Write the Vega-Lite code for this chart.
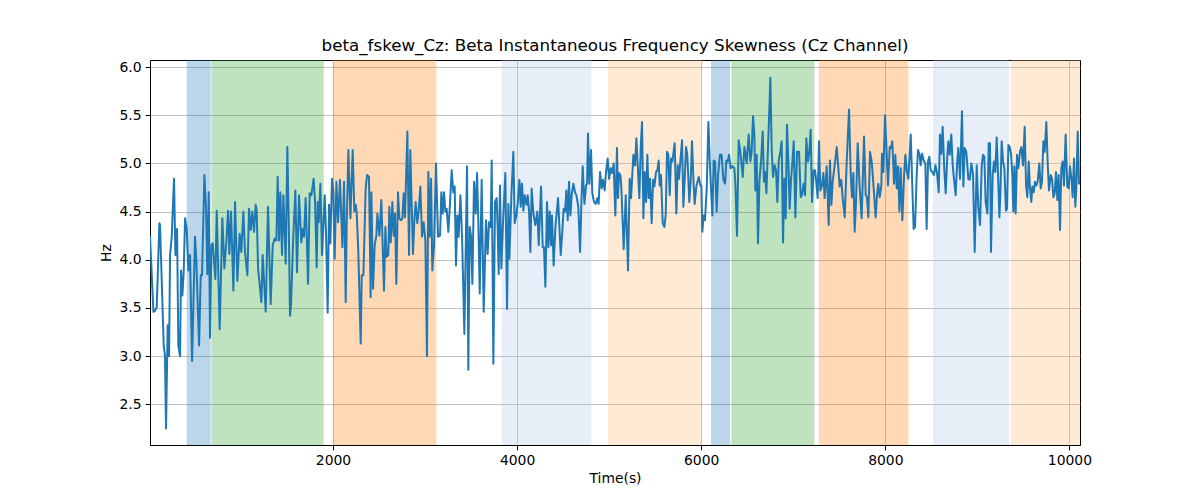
{
  "$schema": "https://vega.github.io/schema/vega-lite/v6.json",
  "width": 930,
  "height": 385,
  "autosize": {"type": "none"},
  "padding": {"left": 150, "top": 60, "right": 120, "bottom": 55},
  "background": "white",
  "title": {"text": "beta_fskew_Cz: Beta Instantaneous Frequency Skewness (Cz Channel)", "fontSize": 16.7, "font": "DejaVu Sans", "fontWeight": "normal", "color": "black", "offset": 5},
  "datasets": {
    "bands": [
      {"start": 411, "end": 671, "phase": "P1"},
      {"start": 679, "end": 1899, "phase": "P2"},
      {"start": 1998, "end": 3123, "phase": "P3"},
      {"start": 3833, "end": 4807, "phase": "P4"},
      {"start": 4988, "end": 6000, "phase": "P5"},
      {"start": 6107, "end": 6313, "phase": "P1"},
      {"start": 6328, "end": 7230, "phase": "P2"},
      {"start": 7277, "end": 8251, "phase": "P3"},
      {"start": 8518, "end": 9344, "phase": "P4"},
      {"start": 9363, "end": 10115, "phase": "P5"}
    ],
    "line": [
      {"t": 12, "v": 4.25}, {"t": 49, "v": 3.46}, {"t": 67, "v": 3.47}, {"t": 85, "v": 3.51}, {"t": 114, "v": 4.38}, {"t": 121, "v": 4.36},
      {"t": 161, "v": 3.11}, {"t": 175, "v": 3.0}, {"t": 186, "v": 2.25}, {"t": 204, "v": 3.32}, {"t": 219, "v": 3.0}, {"t": 230, "v": 4.05},
      {"t": 248, "v": 4.24}, {"t": 273, "v": 4.84}, {"t": 288, "v": 4.05}, {"t": 306, "v": 4.32}, {"t": 320, "v": 3.11}, {"t": 338, "v": 3.0},
      {"t": 349, "v": 3.89}, {"t": 364, "v": 3.63}, {"t": 378, "v": 3.87}, {"t": 393, "v": 4.43}, {"t": 411, "v": 4.32}, {"t": 429, "v": 3.89},
      {"t": 447, "v": 4.05}, {"t": 469, "v": 2.95}, {"t": 501, "v": 4.24}, {"t": 516, "v": 3.98}, {"t": 545, "v": 3.11}, {"t": 563, "v": 3.84},
      {"t": 577, "v": 3.84}, {"t": 603, "v": 4.88}, {"t": 621, "v": 4.53}, {"t": 635, "v": 3.85}, {"t": 650, "v": 4.7}, {"t": 664, "v": 3.19},
      {"t": 679, "v": 4.15}, {"t": 693, "v": 4.17}, {"t": 722, "v": 3.8}, {"t": 737, "v": 4.51}, {"t": 769, "v": 3.28}, {"t": 798, "v": 4.43},
      {"t": 820, "v": 3.91}, {"t": 842, "v": 4.2}, {"t": 860, "v": 4.51}, {"t": 874, "v": 4.06}, {"t": 892, "v": 4.5}, {"t": 918, "v": 3.68},
      {"t": 936, "v": 4.6}, {"t": 961, "v": 3.78}, {"t": 986, "v": 4.27}, {"t": 1004, "v": 4.08}, {"t": 1026, "v": 4.5}, {"t": 1044, "v": 4.08},
      {"t": 1070, "v": 3.84}, {"t": 1088, "v": 4.53}, {"t": 1106, "v": 4.31}, {"t": 1124, "v": 4.5}, {"t": 1142, "v": 4.29}, {"t": 1160, "v": 4.57},
      {"t": 1171, "v": 4.51}, {"t": 1186, "v": 3.91}, {"t": 1222, "v": 3.56}, {"t": 1236, "v": 4.05}, {"t": 1269, "v": 3.46}, {"t": 1294, "v": 4.55},
      {"t": 1323, "v": 3.54}, {"t": 1345, "v": 4.15}, {"t": 1367, "v": 4.22}, {"t": 1385, "v": 4.2}, {"t": 1399, "v": 4.86}, {"t": 1414, "v": 4.2},
      {"t": 1428, "v": 4.7}, {"t": 1446, "v": 4.05}, {"t": 1461, "v": 4.67}, {"t": 1486, "v": 3.96}, {"t": 1504, "v": 5.17}, {"t": 1519, "v": 4.39},
      {"t": 1533, "v": 3.42}, {"t": 1544, "v": 3.54}, {"t": 1566, "v": 4.18}, {"t": 1591, "v": 4.72}, {"t": 1609, "v": 3.87}, {"t": 1631, "v": 4.67},
      {"t": 1656, "v": 4.18}, {"t": 1671, "v": 4.32}, {"t": 1685, "v": 4.24}, {"t": 1703, "v": 4.64}, {"t": 1729, "v": 3.75}, {"t": 1747, "v": 4.69},
      {"t": 1765, "v": 4.67}, {"t": 1790, "v": 4.84}, {"t": 1805, "v": 4.6}, {"t": 1823, "v": 3.92}, {"t": 1834, "v": 4.6}, {"t": 1845, "v": 4.39},
      {"t": 1863, "v": 4.79}, {"t": 1881, "v": 4.05}, {"t": 1910, "v": 4.67}, {"t": 1924, "v": 4.29}, {"t": 1942, "v": 3.45}, {"t": 1957, "v": 4.57},
      {"t": 1971, "v": 4.17}, {"t": 1989, "v": 4.84}, {"t": 2004, "v": 4.7}, {"t": 2018, "v": 4.01}, {"t": 2037, "v": 4.81}, {"t": 2055, "v": 4.39},
      {"t": 2076, "v": 4.83}, {"t": 2102, "v": 4.13}, {"t": 2120, "v": 4.81}, {"t": 2138, "v": 3.56}, {"t": 2149, "v": 4.39}, {"t": 2167, "v": 5.14},
      {"t": 2189, "v": 4.43}, {"t": 2214, "v": 5.14}, {"t": 2232, "v": 4.5}, {"t": 2247, "v": 4.57}, {"t": 2257, "v": 4.5}, {"t": 2275, "v": 4.08},
      {"t": 2301, "v": 3.13}, {"t": 2312, "v": 3.84}, {"t": 2330, "v": 3.84}, {"t": 2355, "v": 4.74}, {"t": 2370, "v": 4.88}, {"t": 2391, "v": 4.86},
      {"t": 2409, "v": 3.61}, {"t": 2417, "v": 4.7}, {"t": 2435, "v": 3.7}, {"t": 2453, "v": 4.15}, {"t": 2471, "v": 4.25}, {"t": 2482, "v": 4.48},
      {"t": 2504, "v": 4.25}, {"t": 2525, "v": 4.62}, {"t": 2554, "v": 3.68}, {"t": 2569, "v": 4.34}, {"t": 2583, "v": 4.03}, {"t": 2601, "v": 4.05},
      {"t": 2612, "v": 4.55}, {"t": 2627, "v": 4.18}, {"t": 2645, "v": 4.6}, {"t": 2659, "v": 4.25}, {"t": 2674, "v": 4.48}, {"t": 2688, "v": 3.75},
      {"t": 2706, "v": 4.7}, {"t": 2721, "v": 4.43}, {"t": 2739, "v": 4.41}, {"t": 2754, "v": 4.43}, {"t": 2768, "v": 4.69}, {"t": 2782, "v": 4.44},
      {"t": 2808, "v": 5.33}, {"t": 2826, "v": 4.05}, {"t": 2840, "v": 5.14}, {"t": 2855, "v": 4.57}, {"t": 2869, "v": 4.06}, {"t": 2884, "v": 4.41},
      {"t": 2898, "v": 4.6}, {"t": 2916, "v": 4.38}, {"t": 2931, "v": 4.51}, {"t": 2949, "v": 4.76}, {"t": 2967, "v": 4.24}, {"t": 2985, "v": 4.39},
      {"t": 3003, "v": 4.2}, {"t": 3021, "v": 3.0}, {"t": 3036, "v": 4.91}, {"t": 3050, "v": 4.24}, {"t": 3065, "v": 4.84}, {"t": 3079, "v": 3.89},
      {"t": 3098, "v": 4.15}, {"t": 3119, "v": 5.0}, {"t": 3141, "v": 4.24}, {"t": 3163, "v": 4.25}, {"t": 3177, "v": 4.7}, {"t": 3192, "v": 4.48},
      {"t": 3206, "v": 4.7}, {"t": 3221, "v": 4.5}, {"t": 3235, "v": 4.53}, {"t": 3253, "v": 4.29}, {"t": 3271, "v": 4.58}, {"t": 3289, "v": 4.93},
      {"t": 3307, "v": 4.7}, {"t": 3322, "v": 4.76}, {"t": 3336, "v": 3.94}, {"t": 3351, "v": 4.46}, {"t": 3365, "v": 4.24}, {"t": 3384, "v": 4.67},
      {"t": 3402, "v": 4.24}, {"t": 3427, "v": 3.23}, {"t": 3456, "v": 4.97}, {"t": 3470, "v": 2.86}, {"t": 3485, "v": 4.34}, {"t": 3499, "v": 4.25},
      {"t": 3514, "v": 3.75}, {"t": 3532, "v": 4.81}, {"t": 3550, "v": 4.48}, {"t": 3565, "v": 4.9}, {"t": 3579, "v": 4.39}, {"t": 3594, "v": 3.65},
      {"t": 3615, "v": 4.83}, {"t": 3637, "v": 3.46}, {"t": 3662, "v": 4.41}, {"t": 3680, "v": 4.06}, {"t": 3695, "v": 4.39}, {"t": 3713, "v": 4.34},
      {"t": 3724, "v": 5.03}, {"t": 3742, "v": 2.92}, {"t": 3760, "v": 4.6}, {"t": 3778, "v": 4.64}, {"t": 3789, "v": 4.32}, {"t": 3800, "v": 3.85},
      {"t": 3814, "v": 4.77}, {"t": 3829, "v": 3.91}, {"t": 3847, "v": 4.39}, {"t": 3872, "v": 4.9}, {"t": 3891, "v": 3.49}, {"t": 3905, "v": 4.58},
      {"t": 3916, "v": 4.01}, {"t": 3938, "v": 4.67}, {"t": 3959, "v": 5.12}, {"t": 3974, "v": 4.38}, {"t": 3992, "v": 4.46}, {"t": 4006, "v": 4.58},
      {"t": 4025, "v": 4.83}, {"t": 4039, "v": 4.55}, {"t": 4053, "v": 4.79}, {"t": 4068, "v": 4.51}, {"t": 4082, "v": 4.67}, {"t": 4101, "v": 4.57},
      {"t": 4115, "v": 4.67}, {"t": 4130, "v": 4.5}, {"t": 4144, "v": 4.08}, {"t": 4158, "v": 4.74}, {"t": 4177, "v": 4.48}, {"t": 4198, "v": 4.36},
      {"t": 4220, "v": 4.5}, {"t": 4235, "v": 4.15}, {"t": 4260, "v": 4.76}, {"t": 4278, "v": 4.13}, {"t": 4292, "v": 4.13}, {"t": 4307, "v": 3.72},
      {"t": 4325, "v": 4.6}, {"t": 4340, "v": 4.13}, {"t": 4354, "v": 4.5}, {"t": 4369, "v": 4.15}, {"t": 4379, "v": 4.46}, {"t": 4397, "v": 3.94},
      {"t": 4416, "v": 4.34}, {"t": 4445, "v": 4.64}, {"t": 4474, "v": 4.05}, {"t": 4492, "v": 4.31}, {"t": 4506, "v": 4.53}, {"t": 4521, "v": 4.5},
      {"t": 4535, "v": 4.72}, {"t": 4550, "v": 4.41}, {"t": 4564, "v": 4.81}, {"t": 4579, "v": 4.46}, {"t": 4593, "v": 4.67}, {"t": 4611, "v": 4.79},
      {"t": 4629, "v": 4.7}, {"t": 4644, "v": 4.67}, {"t": 4665, "v": 4.55}, {"t": 4684, "v": 4.08}, {"t": 4698, "v": 4.58}, {"t": 4713, "v": 4.97},
      {"t": 4731, "v": 4.58}, {"t": 4749, "v": 4.77}, {"t": 4760, "v": 4.79}, {"t": 4770, "v": 5.31}, {"t": 4785, "v": 4.79}, {"t": 4803, "v": 5.14},
      {"t": 4817, "v": 4.69}, {"t": 4836, "v": 4.6}, {"t": 4854, "v": 4.58}, {"t": 4872, "v": 4.64}, {"t": 4886, "v": 4.58}, {"t": 4901, "v": 4.91},
      {"t": 4919, "v": 4.74}, {"t": 4933, "v": 4.83}, {"t": 4951, "v": 4.72}, {"t": 4966, "v": 4.91}, {"t": 4984, "v": 5.05}, {"t": 4999, "v": 4.84},
      {"t": 5017, "v": 4.95}, {"t": 5031, "v": 4.9}, {"t": 5049, "v": 5.0}, {"t": 5067, "v": 4.46}, {"t": 5085, "v": 5.16}, {"t": 5096, "v": 4.64},
      {"t": 5107, "v": 4.9}, {"t": 5122, "v": 4.88}, {"t": 5133, "v": 4.74}, {"t": 5158, "v": 4.11}, {"t": 5180, "v": 4.67}, {"t": 5205, "v": 3.89},
      {"t": 5223, "v": 4.84}, {"t": 5238, "v": 4.64}, {"t": 5263, "v": 5.09}, {"t": 5281, "v": 4.98}, {"t": 5296, "v": 5.26}, {"t": 5310, "v": 4.98},
      {"t": 5328, "v": 4.64}, {"t": 5343, "v": 5.17}, {"t": 5357, "v": 5.43}, {"t": 5372, "v": 4.43}, {"t": 5386, "v": 4.91}, {"t": 5401, "v": 4.6},
      {"t": 5415, "v": 5.09}, {"t": 5429, "v": 4.64}, {"t": 5444, "v": 4.84}, {"t": 5462, "v": 4.38}, {"t": 5477, "v": 4.83}, {"t": 5491, "v": 4.76},
      {"t": 5509, "v": 4.91}, {"t": 5524, "v": 4.93}, {"t": 5538, "v": 5.03}, {"t": 5549, "v": 4.77}, {"t": 5563, "v": 4.88}, {"t": 5582, "v": 4.38},
      {"t": 5600, "v": 4.34}, {"t": 5614, "v": 4.46}, {"t": 5629, "v": 5.12}, {"t": 5643, "v": 5.09}, {"t": 5658, "v": 4.67}, {"t": 5672, "v": 5.05},
      {"t": 5687, "v": 5.02}, {"t": 5712, "v": 5.21}, {"t": 5730, "v": 4.48}, {"t": 5745, "v": 4.98}, {"t": 5759, "v": 4.84}, {"t": 5773, "v": 5.02},
      {"t": 5792, "v": 5.24}, {"t": 5806, "v": 4.55}, {"t": 5821, "v": 4.84}, {"t": 5835, "v": 5.17}, {"t": 5849, "v": 5.09}, {"t": 5871, "v": 4.6},
      {"t": 5886, "v": 4.83}, {"t": 5900, "v": 5.23}, {"t": 5918, "v": 4.77}, {"t": 5929, "v": 4.58}, {"t": 5947, "v": 4.76}, {"t": 5973, "v": 4.86},
      {"t": 5991, "v": 4.77}, {"t": 6002, "v": 4.77}, {"t": 6012, "v": 4.29}, {"t": 6027, "v": 4.46}, {"t": 6041, "v": 4.41}, {"t": 6060, "v": 4.74},
      {"t": 6078, "v": 5.43}, {"t": 6096, "v": 4.95}, {"t": 6121, "v": 4.46}, {"t": 6136, "v": 5.03}, {"t": 6150, "v": 5.02}, {"t": 6168, "v": 4.5},
      {"t": 6183, "v": 4.88}, {"t": 6204, "v": 5.09}, {"t": 6222, "v": 5.09}, {"t": 6241, "v": 4.83}, {"t": 6259, "v": 4.79}, {"t": 6273, "v": 5.03},
      {"t": 6288, "v": 5.02}, {"t": 6302, "v": 5.09}, {"t": 6320, "v": 4.95}, {"t": 6338, "v": 4.97}, {"t": 6360, "v": 4.95}, {"t": 6371, "v": 4.79},
      {"t": 6389, "v": 4.25}, {"t": 6407, "v": 5.24}, {"t": 6425, "v": 5.12}, {"t": 6451, "v": 4.86}, {"t": 6469, "v": 5.17}, {"t": 6483, "v": 5.09},
      {"t": 6494, "v": 5.0}, {"t": 6516, "v": 5.3}, {"t": 6534, "v": 5.02}, {"t": 6548, "v": 5.12}, {"t": 6563, "v": 5.49}, {"t": 6577, "v": 5.31},
      {"t": 6588, "v": 4.72}, {"t": 6603, "v": 5.09}, {"t": 6617, "v": 4.17}, {"t": 6632, "v": 4.81}, {"t": 6650, "v": 5.02}, {"t": 6668, "v": 5.33},
      {"t": 6682, "v": 4.81}, {"t": 6693, "v": 4.91}, {"t": 6708, "v": 4.69}, {"t": 6733, "v": 5.36}, {"t": 6751, "v": 5.89}, {"t": 6766, "v": 5.14},
      {"t": 6780, "v": 4.86}, {"t": 6798, "v": 4.98}, {"t": 6813, "v": 4.93}, {"t": 6827, "v": 4.6}, {"t": 6842, "v": 5.03}, {"t": 6860, "v": 5.12},
      {"t": 6874, "v": 5.23}, {"t": 6889, "v": 4.18}, {"t": 6903, "v": 4.84}, {"t": 6918, "v": 4.43}, {"t": 6932, "v": 5.4}, {"t": 6947, "v": 5.0},
      {"t": 6961, "v": 4.53}, {"t": 6976, "v": 4.84}, {"t": 6990, "v": 5.0}, {"t": 7005, "v": 5.23}, {"t": 7023, "v": 4.44}, {"t": 7041, "v": 5.12},
      {"t": 7063, "v": 5.12}, {"t": 7081, "v": 4.65}, {"t": 7095, "v": 4.67}, {"t": 7113, "v": 4.79}, {"t": 7128, "v": 4.67}, {"t": 7142, "v": 5.26},
      {"t": 7160, "v": 5.02}, {"t": 7175, "v": 5.12}, {"t": 7189, "v": 5.35}, {"t": 7204, "v": 4.6}, {"t": 7222, "v": 4.93}, {"t": 7236, "v": 4.93},
      {"t": 7247, "v": 4.84}, {"t": 7265, "v": 4.64}, {"t": 7280, "v": 5.23}, {"t": 7294, "v": 4.72}, {"t": 7312, "v": 4.77}, {"t": 7327, "v": 4.9},
      {"t": 7341, "v": 4.64}, {"t": 7363, "v": 4.97}, {"t": 7385, "v": 4.36}, {"t": 7399, "v": 5.03}, {"t": 7414, "v": 4.57}, {"t": 7428, "v": 4.81},
      {"t": 7450, "v": 4.98}, {"t": 7472, "v": 5.17}, {"t": 7490, "v": 4.95}, {"t": 7504, "v": 4.76}, {"t": 7522, "v": 4.83}, {"t": 7537, "v": 4.64},
      {"t": 7559, "v": 4.44}, {"t": 7580, "v": 5.0}, {"t": 7606, "v": 5.56}, {"t": 7624, "v": 4.9}, {"t": 7638, "v": 4.65}, {"t": 7653, "v": 4.9},
      {"t": 7667, "v": 4.29}, {"t": 7682, "v": 4.6}, {"t": 7700, "v": 5.21}, {"t": 7722, "v": 4.74}, {"t": 7743, "v": 4.43}, {"t": 7769, "v": 5.28},
      {"t": 7787, "v": 4.67}, {"t": 7801, "v": 4.65}, {"t": 7816, "v": 4.44}, {"t": 7834, "v": 5.12}, {"t": 7852, "v": 5.02}, {"t": 7874, "v": 4.74},
      {"t": 7895, "v": 4.44}, {"t": 7910, "v": 4.67}, {"t": 7924, "v": 4.79}, {"t": 7939, "v": 4.65}, {"t": 7957, "v": 4.77}, {"t": 7964, "v": 5.1},
      {"t": 7979, "v": 4.91}, {"t": 7997, "v": 5.5}, {"t": 8011, "v": 5.19}, {"t": 8029, "v": 4.77}, {"t": 8048, "v": 5.17}, {"t": 8062, "v": 5.16},
      {"t": 8076, "v": 5.23}, {"t": 8095, "v": 4.79}, {"t": 8109, "v": 5.09}, {"t": 8124, "v": 4.74}, {"t": 8138, "v": 4.97}, {"t": 8153, "v": 4.5},
      {"t": 8167, "v": 4.95}, {"t": 8185, "v": 4.41}, {"t": 8203, "v": 4.86}, {"t": 8218, "v": 5.09}, {"t": 8232, "v": 4.93}, {"t": 8250, "v": 4.84},
      {"t": 8276, "v": 5.3}, {"t": 8294, "v": 4.74}, {"t": 8308, "v": 4.32}, {"t": 8323, "v": 4.34}, {"t": 8341, "v": 4.88}, {"t": 8355, "v": 5.14},
      {"t": 8373, "v": 5.09}, {"t": 8384, "v": 4.98}, {"t": 8399, "v": 5.1}, {"t": 8417, "v": 5.03}, {"t": 8435, "v": 5.0}, {"t": 8449, "v": 4.32},
      {"t": 8464, "v": 5.02}, {"t": 8478, "v": 5.07}, {"t": 8493, "v": 4.93}, {"t": 8511, "v": 4.91}, {"t": 8529, "v": 4.88}, {"t": 8544, "v": 4.98},
      {"t": 8562, "v": 4.9}, {"t": 8580, "v": 4.7}, {"t": 8594, "v": 5.3}, {"t": 8609, "v": 5.1}, {"t": 8623, "v": 5.38}, {"t": 8641, "v": 4.93},
      {"t": 8656, "v": 4.69}, {"t": 8674, "v": 5.09}, {"t": 8685, "v": 5.23}, {"t": 8699, "v": 5.09}, {"t": 8717, "v": 5.3}, {"t": 8732, "v": 4.98},
      {"t": 8746, "v": 4.84}, {"t": 8764, "v": 4.67}, {"t": 8779, "v": 4.98}, {"t": 8793, "v": 5.16}, {"t": 8812, "v": 4.84}, {"t": 8833, "v": 5.54},
      {"t": 8848, "v": 4.76}, {"t": 8862, "v": 5.16}, {"t": 8880, "v": 5.12}, {"t": 8902, "v": 4.84}, {"t": 8917, "v": 4.83}, {"t": 8935, "v": 5.0},
      {"t": 8953, "v": 4.88}, {"t": 8971, "v": 4.08}, {"t": 8993, "v": 4.98}, {"t": 9011, "v": 4.53}, {"t": 9029, "v": 4.36}, {"t": 9047, "v": 4.97},
      {"t": 9061, "v": 5.09}, {"t": 9076, "v": 5.07}, {"t": 9090, "v": 4.6}, {"t": 9109, "v": 4.48}, {"t": 9123, "v": 5.21}, {"t": 9137, "v": 5.21},
      {"t": 9148, "v": 4.08}, {"t": 9166, "v": 4.88}, {"t": 9181, "v": 5.02}, {"t": 9195, "v": 4.91}, {"t": 9210, "v": 5.27}, {"t": 9228, "v": 4.79},
      {"t": 9239, "v": 4.44}, {"t": 9250, "v": 4.69}, {"t": 9264, "v": 5.23}, {"t": 9279, "v": 5.02}, {"t": 9293, "v": 4.95}, {"t": 9311, "v": 4.51},
      {"t": 9322, "v": 4.53}, {"t": 9337, "v": 5.19}, {"t": 9351, "v": 5.17}, {"t": 9366, "v": 5.1}, {"t": 9380, "v": 4.88}, {"t": 9391, "v": 4.5},
      {"t": 9402, "v": 4.97}, {"t": 9416, "v": 4.48}, {"t": 9431, "v": 5.09}, {"t": 9445, "v": 4.95}, {"t": 9463, "v": 5.12}, {"t": 9478, "v": 5.17},
      {"t": 9496, "v": 4.98}, {"t": 9514, "v": 5.38}, {"t": 9529, "v": 4.77}, {"t": 9543, "v": 4.65}, {"t": 9558, "v": 5.02}, {"t": 9572, "v": 4.74},
      {"t": 9586, "v": 4.6}, {"t": 9597, "v": 4.76}, {"t": 9612, "v": 4.7}, {"t": 9626, "v": 4.81}, {"t": 9641, "v": 4.77}, {"t": 9655, "v": 4.81},
      {"t": 9673, "v": 5.0}, {"t": 9688, "v": 4.74}, {"t": 9702, "v": 4.81}, {"t": 9717, "v": 5.23}, {"t": 9731, "v": 5.12}, {"t": 9749, "v": 5.43},
      {"t": 9764, "v": 5.0}, {"t": 9778, "v": 4.72}, {"t": 9797, "v": 4.88}, {"t": 9811, "v": 4.84}, {"t": 9826, "v": 4.65}, {"t": 9840, "v": 4.69},
      {"t": 9854, "v": 4.91}, {"t": 9869, "v": 4.62}, {"t": 9883, "v": 4.88}, {"t": 9898, "v": 4.31}, {"t": 9912, "v": 4.95}, {"t": 9927, "v": 5.02},
      {"t": 9941, "v": 4.77}, {"t": 9959, "v": 5.3}, {"t": 9977, "v": 4.76}, {"t": 9992, "v": 4.74}, {"t": 10006, "v": 4.97}, {"t": 10025, "v": 4.81},
      {"t": 10035, "v": 4.65}, {"t": 10050, "v": 5.05}, {"t": 10064, "v": 4.55}, {"t": 10075, "v": 4.74}, {"t": 10090, "v": 5.33}, {"t": 10104, "v": 4.79},
      {"t": 10115, "v": 4.8}
    ]
  },
  "layer": [
    {
      "data": {"name": "bands"},
      "mark": {"type": "rect", "opacity": 0.3, "clip": true},
      "encoding": {
        "x": {"field": "start", "type": "quantitative", "scale": {"domain": [12, 10115], "nice": false, "zero": false},
              "axis": {"title": "Time(s)", "values": [2000, 4000, 6000, 8000, 10000], "format": "d"}},
        "x2": {"field": "end"},
        "color": {"field": "phase", "type": "nominal",
                  "scale": {"domain": ["P1", "P2", "P3", "P4", "P5"], "range": ["#1f77b4", "#2ca02c", "#ff7f0e", "#aec7e8", "#ffbb78"]},
                  "legend": null}
      }
    },
    {
      "data": {"name": "line"},
      "mark": {"type": "line", "color": "#1f77b4", "strokeWidth": 2, "strokeJoin": "round", "clip": true},
      "encoding": {
        "x": {"field": "t", "type": "quantitative", "scale": {"domain": [12, 10115], "nice": false, "zero": false},
              "axis": {"title": "Time(s)", "values": [2000, 4000, 6000, 8000, 10000], "format": "d"}},
        "y": {"field": "v", "type": "quantitative", "scale": {"domain": [2.078, 6.073], "nice": false, "zero": false},
              "axis": {"title": "Hz", "values": [2.5, 3.0, 3.5, 4.0, 4.5, 5.0, 5.5, 6.0], "format": ".1f"}}
      }
    }
  ],
  "config": {
    "view": {"stroke": "black", "strokeWidth": 1},
    "axis": {
      "labelFont": "DejaVu Sans", "titleFont": "DejaVu Sans", "labelFontSize": 13.9, "titleFontSize": 13.9,
      "titleFontWeight": "normal", "labelColor": "black", "titleColor": "black",
      "domainColor": "black", "domainWidth": 1, "tickColor": "black", "tickSize": 4.9, "tickWidth": 1,
      "labelPadding": 4, "gridColor": "#b0b0b0", "gridWidth": 0.8, "labelFlush": false, "labelOverlap": false
    },
    "axisX": {"titlePadding": 4},
    "axisY": {"titlePadding": 6}
  }
}
